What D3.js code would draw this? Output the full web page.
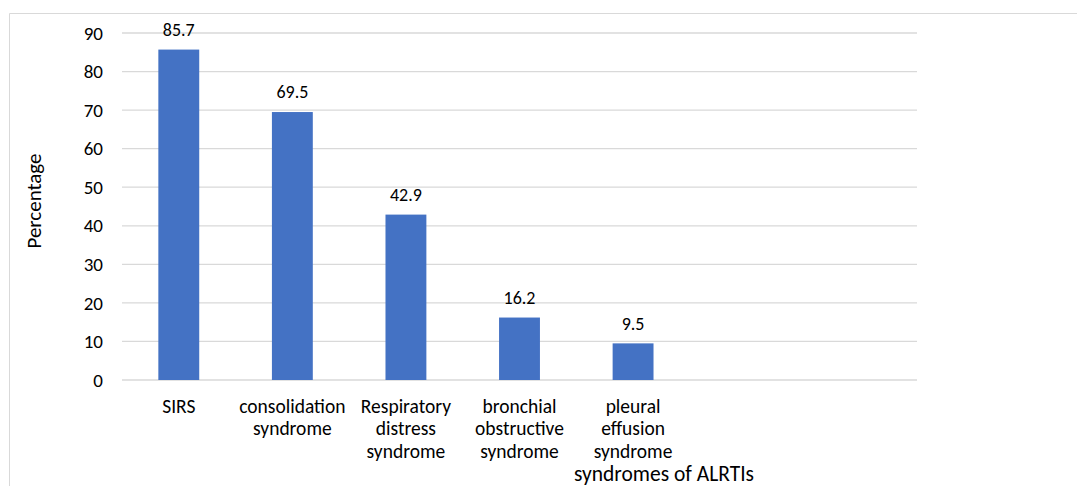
<!DOCTYPE html>
<html><head><meta charset="utf-8">
<script src="https://cdn.jsdelivr.net/npm/d3@7"></script>
<style>body{margin:0;background:#fff}svg{display:block}text{font-family:Carlito,Lato,"Liberation Sans",sans-serif;fill:#000}</style>
</head><body><svg id="c" width="1077" height="486"></svg>
<script>
const categories = ["SIRS","consolidation syndrome","Respiratory distress syndrome","bronchial obstructive syndrome","pleural effusion syndrome","",""];
const categoryLines = [["SIRS"],["consolidation","syndrome"],["Respiratory","distress","syndrome"],["bronchial","obstructive","syndrome"],["pleural","effusion","syndrome"],[],[]];
const values = [85.7,69.5,42.9,16.2,9.5,null,null];
const yTicks = [0,10,20,30,40,50,60,70,80,90];
const yTitle = "Percentage";
const xTitle = "syndromes of ALRTIs";

const svg = d3.select("#c");
svg.append("path").attr("d","M9.5,486 V13.5 H1077").attr("fill","none").attr("stroke","#d9d9d9");
const x = d3.scaleBand().domain(categories.map((c,i)=>i)).range([122,917]).paddingInner(0.64).paddingOuter(0.32);
const y = d3.scaleLinear().domain([0,90]).range([380,33]);

const g = svg.append("g");
g.selectAll("line.grid").data(yTicks).join("line").attr("class","grid")
 .attr("x1",122).attr("x2",917).attr("y1",d=>y(d)).attr("y2",d=>y(d))
 .attr("stroke","#d9d9d9").attr("stroke-width",1.3);
g.selectAll("text.yt").data(yTicks).join("text").attr("class","yt")
 .attr("x",103).attr("y",d=>y(d)).attr("dy","0.35em").attr("text-anchor","end")
 .attr("font-size",19).text(d=>d);

const data = values.map((v,i)=>({i,v})).filter(d=>d.v!=null);
g.selectAll("rect").data(data).join("rect")
 .attr("x",d=>x(d.i)).attr("width",x.bandwidth())
 .attr("y",d=>y(d.v)).attr("height",d=>y(0)-y(d.v)).attr("fill","#4472C4");
g.selectAll("text.val").data(data).join("text").attr("class","val")
 .attr("x",d=>x(d.i)+x.bandwidth()/2).attr("y",d=>y(d.v)-20).attr("dy","0.35em")
 .attr("text-anchor","middle").attr("font-size",18).text(d=>d.v);

categoryLines.forEach((lines,i)=>{
  const t = g.append("text").attr("text-anchor","middle").attr("font-size",19.5);
  lines.forEach((l,k)=>t.append("tspan").attr("x",x(i)+x.bandwidth()/2).attr("y",406+k*22.5).attr("dy","0.35em").text(l));
});
g.append("text").attr("x",664).attr("y",473).attr("dy","0.35em").attr("text-anchor","middle").attr("font-size",21.5).text(xTitle);
g.append("text").attr("transform","translate(34,201) rotate(-90)").attr("dy","0.35em").attr("text-anchor","middle").attr("font-size",21).text(yTitle);
</script></body></html>
